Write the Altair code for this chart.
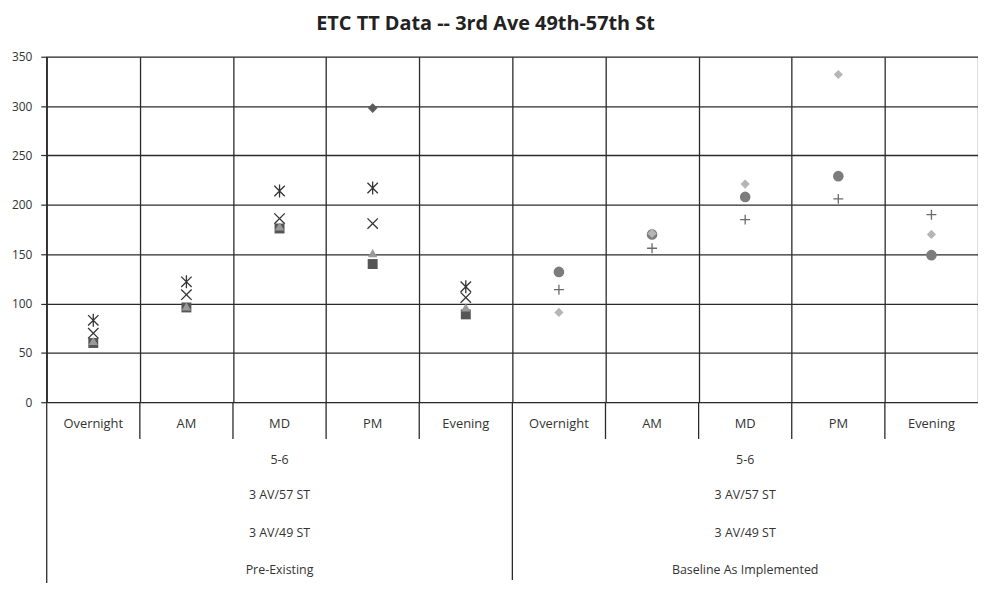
import altair as alt
import pandas as pd

# ---------------- data ----------------
categories = ["Overnight", "AM", "MD", "PM", "Evening",
              "Overnight", "AM", "MD", "PM", "Evening"]
group_names = ["Pre-Existing", "Baseline As Implemented"]
group_rows = ["5-6", "3 AV/57 ST", "3 AV/49 ST"]
y_ticks = [0, 50, 100, 150, 200, 250, 300, 350]

N = None
diamond_dark = [N, N, N, 298, N, N, N, N, N, N]
square_vals = [60, 96, 176, 140, 89, N, N, N, N, N]
triangle_vals = [62, 97, 178, 151, 96, N, N, N, N, N]
x_vals = [70, 109, 186, 181, 106, N, N, N, N, N]
star_vals = [83, 122, 214, 217, 117, N, N, N, N, N]
circle_vals = [N, N, N, N, N, 132, 170, 208, 229, 149]
plus_vals = [N, N, N, N, N, 114, 156, 185, 206, 190]
light_vals = [N, N, N, N, N, 91, 171, 221, 332, 170]

series = {
    "Series1": diamond_dark,
    "Series2": square_vals,
    "Series3": triangle_vals,
    "Series4": x_vals,
    "Series5": star_vals,
    "Series6": circle_vals,
    "Series7": plus_vals,
    "Series8": light_vals,
}

rows = []
for name, vals in series.items():
    for i, v in enumerate(vals):
        if v is not None:
            rows.append({"pos": i + 0.5, "cat": categories[i], "series": name, "value": v})
df = pd.DataFrame(rows)

cat_df = pd.DataFrame({"pos": [i + 0.5 for i in range(len(categories))], "label": categories})
grp_rows = []
for g, name in enumerate(group_names):
    for r, lab in enumerate(group_rows + [name]):
        grp_rows.append({"pos": g * 5 + 2.5, "row": r, "label": lab})
grp_df = pd.DataFrame(grp_rows)

sep_df = pd.DataFrame({"pos": [1, 2, 3, 4, 6, 7, 8, 9]})
mid_df = pd.DataFrame({"pos": [5]})
left_df = pd.DataFrame({"pos": [0]})

# ---------------- styling ----------------
W, H = 938, 348
FONT = "Open Sans"
LINE = "#2a2a2a"
TXT = "#333333"

XPATH = "M-1,-1L1,1M-1,1L1,-1"
STAR = "M-1,-1L1,1M-1,1L1,-1M0,-1.25L0,1.25"
PLUS = "M-1,0L1,0M0,-1L0,1"

styles = {
    # name: (shape, color, size, filled)
    "Series1": ("diamond", "#5c5c5c", 95, True),
    "Series2": ("square", "#555555", 100, True),
    "Series3": ("triangle-up", "#9a9a9a", 90, True),
    "Series4": (XPATH, "#333333", 110, False),
    "Series5": (STAR, "#333333", 110, False),
    "Series6": ("circle", "#7c7c7c", 115, True),
    "Series7": (PLUS, "#6a6a6a", 100, False),
    "Series8": ("diamond", "#b5b5b5", 85, True),
}

xscale = alt.Scale(domain=[0, 10], nice=False, zero=False)
yscale = alt.Scale(domain=[0, 350], nice=False)

grid = alt.Chart(cat_df).mark_point(opacity=0).encode(
    x=alt.X("pos:Q", scale=xscale,
            axis=alt.Axis(values=list(range(11)), grid=True, labels=False, ticks=False,
                          domain=False, title=None, gridColor=LINE, gridOpacity=1, gridWidth=1.3)),
    y=alt.Y("pos:Q", scale=yscale,
            axis=alt.Axis(values=y_ticks, grid=True, gridColor=LINE, gridOpacity=1, gridWidth=1.3,
                          domain=False, tickColor=LINE, tickSize=6, tickWidth=1.2,
                          labelFont=FONT, labelFontSize=12, labelColor=TXT, labelPadding=9,
                          title=None)),
)

point_layers = []
for name, (shape, color, size, filled) in styles.items():
    mk = dict(shape=shape, color=color, size=size, filled=filled, opacity=1)
    if not filled:
        mk["strokeWidth"] = 1.3
    point_layers.append(
        alt.Chart(df[df["series"] == name]).mark_point(**mk).encode(
            x=alt.X("pos:Q", scale=xscale),
            y=alt.Y("value:Q", scale=yscale),
        )
    )

cat_text = alt.Chart(cat_df).mark_text(font=FONT, fontSize=13, color=TXT, baseline="middle").encode(
    x=alt.X("pos:Q", scale=xscale), y=alt.value(370), text="label:N"
)

row_y = {0: 406, 1: 441, 2: 480, 3: 517}
grp_layers = []
for r, yv in row_y.items():
    grp_layers.append(
        alt.Chart(grp_df[grp_df["row"] == r]).mark_text(
            font=FONT, fontSize=12.5, color=TXT, baseline="middle"
        ).encode(x=alt.X("pos:Q", scale=xscale), y=alt.value(yv), text="label:N")
    )

sep = alt.Chart(sep_df).mark_rule(color=LINE, strokeWidth=1.3).encode(
    x=alt.X("pos:Q", scale=xscale), y=alt.value(H), y2=alt.value(H + 37)
)
mid = alt.Chart(mid_df).mark_rule(color=LINE, strokeWidth=1.3).encode(
    x=alt.X("pos:Q", scale=xscale), y=alt.value(H), y2=alt.value(527)
)
left = alt.Chart(left_df).mark_rule(color=LINE, strokeWidth=1.3).encode(
    x=alt.X("pos:Q", scale=xscale), y=alt.value(0), y2=alt.value(530)
)

chart = alt.layer(grid, sep, mid, left, cat_text, *grp_layers, *point_layers).properties(
    width=W, height=H,
    title=alt.TitleParams("ETC TT Data -- 3rd Ave 49th-57th St", font=FONT, fontSize=20,
                          fontWeight="bold", color="#222222", anchor="middle", offset=17, dx=-27),
    padding={"left": 39, "top": 47, "right": 0, "bottom": 180},
    autosize=alt.AutoSizeParams(type="none"),
).configure_view(stroke=None).configure(background="white")

chart.save("out.html", embed_options={"renderer": "svg", "actions": False})
